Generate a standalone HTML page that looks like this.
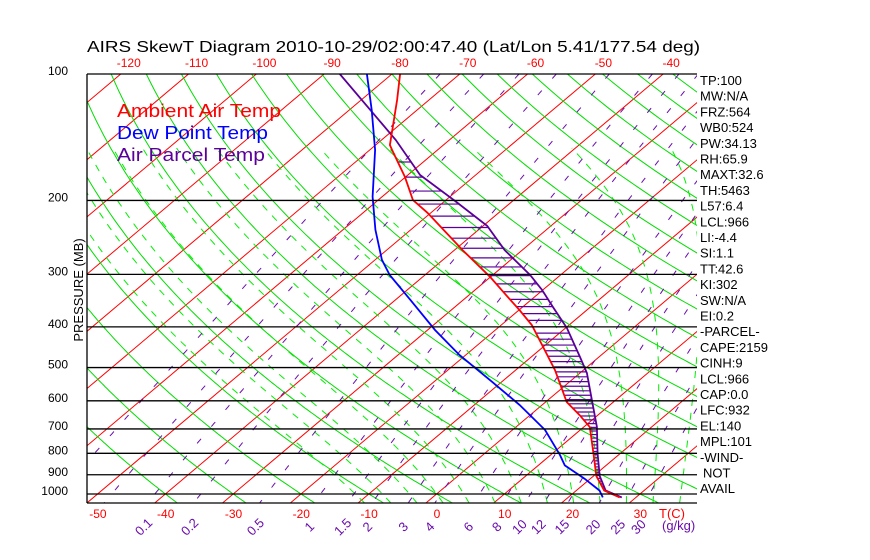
<!DOCTYPE html>
<html><head><meta charset="utf-8"><style>
html,body{margin:0;padding:0;background:#fff;}
svg{display:block;font-family:"Liberation Sans",sans-serif;}
</style></head><body>
<svg id="chart" width="870" height="560" viewBox="0 0 870 560">
<rect x="0" y="0" width="870" height="560" fill="#fff"/>
<text x="87" y="52" font-size="16" textLength="613" lengthAdjust="spacingAndGlyphs" fill="#000">AIRS SkewT Diagram 2010-10-29/02:00:47.40 (Lat/Lon 5.41/177.54 deg)</text>
<defs><clipPath id="plotclip"><rect x="87" y="74" width="610" height="429"/></clipPath></defs>
<g id="grid" clip-path="url(#plotclip)"></g>
<g id="series" clip-path="url(#plotclip)"></g>
<g id="axes"></g>
<text x="117" y="117" font-size="18" textLength="164" lengthAdjust="spacingAndGlyphs" fill="#ff0000">Ambient Air Temp</text>
<text x="117" y="139" font-size="18" textLength="151" lengthAdjust="spacingAndGlyphs" fill="#0000ff">Dew Point Temp</text>
<text x="117" y="161" font-size="18" textLength="148" lengthAdjust="spacingAndGlyphs" fill="#5a0099">Air Parcel Temp</text>
<text transform="translate(83,290) rotate(-90)" text-anchor="middle" font-size="13" fill="#000">PRESSURE (MB)</text>
</svg>
<script>
const pressureTicks=[100,200,300,400,500,600,700,800,900,1000];
const bottomTempTicks=[-50,-40,-30,-20,-10,0,10,20,30];
const topTempTicks=[-120,-110,-100,-90,-80,-70,-60,-50,-40];
const mixTicks=[0.1,0.2,0.5,1,1.5,2,3,4,6,8,10,12,15,20,25,30];
const ambP=[100,115.3,147.6,151.7,175.8,199.5,214,262.6,304,332.6,365,396,507,604,649,693,802,906,981,1019];
const ambT=[-78.8,-74.7,-67.9,-66.7,-60.1,-54.9,-50.5,-38.8,-30.1,-25.1,-19.9,-15.5,-4.2,3.1,7.3,10.9,16.1,20.4,24.1,27.6];
const dewP=[100,121.8,151.7,196,235,277,301,345,407,467,535,614,704,808,855,919,981,1019];
const dewT=[-83.7,-76.7,-69.2,-61.4,-55.2,-49.0,-45.2,-37.8,-28.9,-20.9,-12.1,-3.3,4.8,11.4,13.9,19.1,23.4,25.1];
const parP=[100,143.6,174,200.6,230,262.6,301,326.8,359,402.6,472,515,598,692,802,906,981,1019];
const parT=[-87.7,-67.9,-58.2,-48.5,-39.4,-32.6,-24.5,-20.1,-15.5,-9.8,-2.8,1.0,6.5,11.9,16.7,20.9,24.3,27.9];
const infoLines=["TP:100","MW:N/A","FRZ:564","WB0:524","PW:34.13","RH:65.9","MAXT:32.6","TH:5463","L57:6.4","LCL:966","LI:-4.4","SI:1.1","TT:42.6","KI:302","SW:N/A","EI:0.2","-PARCEL-","CAPE:2159","CINH:9","LCL:966","CAP:0.0","LFC:932","EL:140","MPL:101","-WIND-","NOT","AVAIL"];

const NS="http://www.w3.org/2000/svg";
const TOP=74,BOT=503,LEFT=87,RIGHT=697,K=182.4;
function yP(p){return TOP+K*Math.log(p/100);}
function xT(T,p){return 426+6.78*T+1.185*(BOT-yP(p));}
function mk(tag,attrs,parent){const e=document.createElementNS(NS,tag);for(const k in attrs)e.setAttribute(k,attrs[k]);parent.appendChild(e);return e;}
const grid=document.getElementById('grid'),series=document.getElementById('series'),axes=document.getElementById('axes');
function pathFrom(pts){return pts.map((q,i)=>(i?'L':'M')+q[0].toFixed(1)+' '+q[1].toFixed(1)).join('');}
const plevels=[];for(let p=100;p<=1060;p+=5)plevels.push(p);

for(let T=-170;T<=50;T+=10){
  const l=mk('line',{x1:xT(T,1051),y1:BOT,x2:xT(T,100),y2:TOP,stroke:'#ff0000','stroke-width':1},grid);
  
  
}
for(let th=-40;th<=220;th+=10){
  const pts=plevels.map(p=>[xT((th+273.15)*Math.pow(p/1000,0.286)-273.15,p),yP(p)]);
  const e=mk('path',{d:pathFrom(pts),fill:'none',stroke:'#00dd00','stroke-width':1},grid);
  
  
}
function es(Tc){return 6.112*Math.exp(17.67*Tc/(Tc+243.5));}
function moistRate(T,p){const e=es(T-273.15);const r=0.622*e/(p-e);return (287*T+2.5e6*r)/(1004+2.5e6*2.5e6*r*0.622/(287*T*T))/p;}
for(let tw=-12;tw<=40;tw+=4){
  let Td=tw+273.15;
  for(let pp=1000;pp<1051;pp+=1){Td+=moistRate(Td,pp);}
  const pts=[[xT(Td-273.15,1051),yP(1051)]];
  let T=tw+273.15;
  for(let p=1000;p>=150;p-=2){
    if(p%10===0)pts.push([xT(T-273.15,p),yP(p)]);
    T-=moistRate(T,p)*2;
  }
  const e=mk('path',{d:pathFrom(pts),fill:'none',stroke:'#00ee00','stroke-width':1,'stroke-dasharray':'7 7'},grid);
  
  
}
function tdFromW(w,p){const e=(w/1000)*p/(0.622+w/1000);const a=Math.log(e/6.112);return 243.5*a/(17.67-a);}
const mixAll=[0.02,0.05].concat(mixTicks);
mixAll.forEach(w=>{
  const pts=plevels.map(p=>[xT(tdFromW(w,p),p),yP(p)]);
  const e=mk('path',{d:pathFrom(pts),fill:'none',stroke:'#6a0dad','stroke-width':1,'stroke-dasharray':'6 16'},grid);
  
  
});
pressureTicks.forEach(p=>{
  const l=mk('line',{x1:LEFT,y1:yP(p),x2:RIGHT,y2:yP(p),stroke:'#000','stroke-width':1.3},axes);
  
  
  const t=mk('text',{x:68,y:yP(p)+1,'text-anchor':'end','font-size':12,fill:'#000'},axes);
  t.textContent=p;
  
  
});
{const l=mk('line',{x1:LEFT,y1:TOP,x2:LEFT,y2:BOT,stroke:'#000','stroke-width':1.3},axes);}
{const l=mk('line',{x1:LEFT,y1:BOT,x2:RIGHT,y2:BOT,stroke:'#000','stroke-width':1.3},axes);}
bottomTempTicks.forEach(T=>{
  const t=mk('text',{x:xT(T,1051)+11,y:518,'text-anchor':'middle','font-size':12,fill:'#ff0000'},axes);
  t.textContent=T;
  
  
});
{const t=mk('text',{x:672,y:518,'text-anchor':'middle','font-size':13,fill:'#ff0000'},axes);t.textContent='T(C)';}
topTempTicks.forEach(T=>{
  const t=mk('text',{x:xT(T,100)+8,y:67,'text-anchor':'middle','font-size':12,fill:'#ff0000'},axes);
  t.textContent=T;
  
  
});
mixTicks.forEach(w=>{
  const x=xT(tdFromW(w,1000),1000)-8;
  const t=mk('text',{transform:'translate('+x.toFixed(1)+',530) rotate(-45)','text-anchor':'middle','font-size':13,fill:'#6a0dad'},axes);
  t.textContent=w;
  
  
});
{const t=mk('text',{x:662,y:530,'font-size':13,fill:'#6a0dad'},axes);t.textContent='(g/kg)';}
infoLines.forEach((s,i)=>{
  const t=mk('text',{x:s==='NOT'?703:700,y:85+i*15.7,'font-size':13,fill:'#000'},axes);
  t.textContent=s;
  
  
});
function interpT(P,T,p){if(p<P[0]||p>P[P.length-1])return null;for(let i=0;i<P.length-1;i++){if(p>=P[i]&&p<=P[i+1]){const f=Math.log(p/P[i])/Math.log(P[i+1]/P[i]);return T[i]+f*(T[i+1]-T[i]);}}return null;}
for(let p=162;p<=1005;p+=14){
  const a=interpT(ambP,ambT,p),b=interpT(parP,parT,p);
  if(a===null||b===null||b<=a)continue;
  const l=mk('line',{x1:xT(a,p),y1:yP(p),x2:xT(b,p),y2:yP(p),stroke:'#5a0099','stroke-width':1.2},series);
  
  
}
function drawSeries(P,T,color,name){
  const pts=P.map((p,i)=>[xT(T[i],p),yP(p)]);
  const e=mk('path',{d:pathFrom(pts),fill:'none',stroke:color,'stroke-width':1.8},series);
  
  
}
drawSeries(parP,parT,'#5a0099','parcel-temp-line');
drawSeries(ambP,ambT,'#ff0000','ambient-temp-line');
drawSeries(dewP,dewT,'#0000ff','dewpoint-line');
</script>
</body></html>
